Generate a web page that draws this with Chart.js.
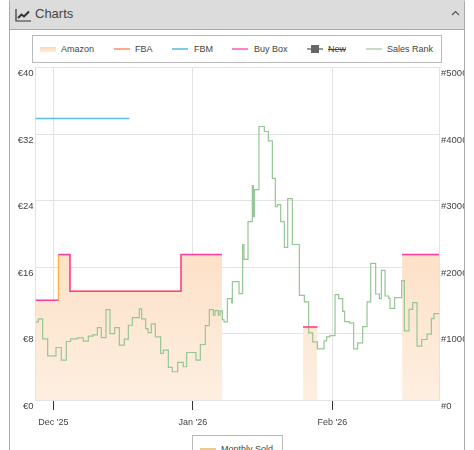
<!DOCTYPE html>
<html lang="en">
<head>
  <title>Charts</title>
  <meta charset="utf-8">
  <script src="https://cdn.jsdelivr.net/npm/chart.js@4/dist/chart.umd.min.js"></script>
  <style>
    html, body { margin: 0; height: 450px; overflow: hidden; background: #fff; font-family: "Liberation Sans", Arial, sans-serif; }
    .panel { position: absolute; left: 9px; top: -2px; width: 454px; height: 470px; border: 1px solid #aaa; border-width: 1px 1.5px; border-radius: 4px 4px 0 0; overflow: hidden; }
    .panel-head { position: absolute; left: 0; top: 0; width: 100%; height: 30px; background: #dcdcdc; border-bottom: 1px solid #aaa; }
    .panel-head span { position: absolute; left: 25px; top: 6px; font-size: 13px; line-height: 17px; color: #444; }
    .panel-head svg { position: absolute; }
    .legend { position: absolute; border: 1px solid #bbb; background: #fff; font-size: 9px; color: #444; }
    .legend i { position: absolute; display: block; }
    .legend span { position: absolute; white-space: nowrap; line-height: 12px; }
    #chart { position: absolute; left: 10px; top: 60px; }
  </style>
</head>
<body>

<div class="panel">
  <div class="panel-head">
    <svg style="left:5px;top:9px" width="16" height="14" viewBox="0 0 16 14">
      <path d="M1 1V13H16" fill="none" stroke="#333" stroke-width="1.2"/>
      <path d="M3 10L6.5 6.5L9 8.5L14 3.5" fill="none" stroke="#333" stroke-width="2"/>
    </svg>
    <span>Charts</span>
    <svg style="left:441px;top:11px" width="9" height="6" viewBox="0 0 9 6">
      <path d="M1 5L4.5 1.5L8 5" fill="none" stroke="#555" stroke-width="1.2"/>
    </svg>
  </div>
</div>

<div class="legend" style="left:32px;top:35px;width:408px;height:26px">
  <i style="left:7px;top:11px;width:16px;height:5px;background:linear-gradient(#fdd9b3,#fdeedd)"></i>
  <span style="left:28px;top:7px">Amazon</span>
  <i style="left:81px;top:12px;width:16px;height:2px;background:#ffa78f"></i>
  <span style="left:102px;top:7px">FBA</span>
  <i style="left:139px;top:12px;width:16px;height:2px;background:#7fcaf0"></i>
  <span style="left:161px;top:7px">FBM</span>
  <i style="left:199px;top:12px;width:16px;height:2px;background:#ff80cf"></i>
  <span style="left:221px;top:7px">Buy Box</span>
  <i style="left:274px;top:12px;width:16px;height:2px;background:#999"></i>
  <i style="left:278px;top:9px;width:8px;height:8px;background:#666"></i>
  <span style="left:295px;top:7px;text-decoration:line-through">New</span>
  <i style="left:333px;top:12px;width:16px;height:2px;background:#c5dcc5"></i>
  <span style="left:354px;top:7px">Sales Rank</span>
</div>

<canvas id="chart" width="454" height="375"></canvas>

<div class="legend" style="left:192px;top:435px;width:89px;height:40px">
  <i style="left:7px;top:12px;width:16px;height:5px;background:#e8cd8f"></i>
  <span style="left:28px;top:7px">Monthly Sold</span>
</div>

<script>
  // x values are days counted from 1 Dec 2025
  const xMin = -3.96
  const xMax = 85.7
  const monthDays = [0, 31, 62]
  const monthLabels = ["Dec '25", "Jan '26", "Feb '26"]

  const priceTicks = [0, 8, 16, 24, 32, 40]
  const rankTicks = [0, 10000, 20000, 30000, 40000, 50000]

  const amazonDays = [-3.96, 1.11, 3.7, 28.37, 37.48, 37.49, 55.5, 58.67, 58.68, 77.5, 85.7]
  const amazonPrices = [12, 17.5, 13.1, 17.5, 17.5, null, 8.8, 8.8, null, 17.5, 17.5]

  const buyBoxDays = [-3.96, 1.1, 1.11, 1.12, 3.7, 28.37, 37.48, 37.49, 55.5, 58.67, 58.68, 77.5, 85.7]
  const buyBoxPrices = [12, 12, null, 17.5, 13.1, 17.5, 17.5, null, 8.8, 8.8, null, 17.5, 17.5]

  const fbmDays = [-3.96, 16.9]
  const fbmPrices = [33.9, 33.9]

  const rankDays = [
    -3.96, -3.33, -2.37, -1.26, 0.59, 1.78, 2.89, 3.85, 5.33, 6.67, 7.78, 8.74, 9.78, 10.67, 11.7, 12.59,
    13.63, 14.67, 15.78, 16.67, 17.56, 19.11, 19.63, 20.52, 21.04, 21.78, 22.67, 23.85, 24.44, 25.56, 26.44, 27.63,
    28.89, 29.63, 31.7, 32.67, 33.78, 34.67, 35.56, 35.93, 36.67, 37.04, 37.56, 37.93, 38.67, 39.63, 39.78, 41.26,
    42.07, 42.37, 43.26, 44.22, 44.45, 44.67, 45.7, 46.89, 47.78, 48.67, 49.33, 49.78, 50.52, 51.34, 52.08, 53.11,
    54.67, 55.78, 56.74, 57.63, 58.67, 60.15, 60.74, 61.48, 62.6, 63.41, 64.3, 64.74, 65.78, 66.74, 67.63, 68.74,
    69.71, 70.52, 71.63, 72.45, 72.89, 73.71, 74.52, 74.82, 75.85, 77.41, 78, 79.04, 79.85, 80.82, 81.85, 83.04,
    84, 84.59, 85.7
  ]
  const rankValues = [
    11750, 12200, 9200, 6650, 7900, 6000, 8800, 9200, 9350, 8850, 9600, 9800, 10900, 9400, 13600, 10000,
    10900, 8250, 9150, 11250, 12400, 13700, 12200, 10750, 10150, 11450, 9500, 7000, 7500, 4900, 4250, 5650,
    5000, 7150, 6000, 8350, 11200, 13600, 12750, 13450, 12750, 13400, 12100, 11750, 15250, 14600, 17800, 16000,
    23400, 21150, 26850, 32250, 27600, 31650, 41150, 40400, 39000, 33350, 29100, 29400, 26850, 22950, 30300, 23400,
    15750, 14750, 10100, 8750, 7700, 8900, 9500, 9700, 15850, 15250, 13350, 11800, 11600, 7700, 8600, 11050,
    14750, 20550, 15950, 15250, 19500, 15650, 15300, 13800, 15400, 17950, 10400, 13650, 14650, 8100, 9100, 9900,
    12250, 13000, 13000
  ]

  function toPoints(days, values) {
    return days.map((d, i) => ({ x: d, y: values[i] }))
  }

  // peach fill, slightly stronger near the highest price
  function amazonFill(ctx) {
    const area = ctx.chart.chartArea
    if (!area) return '#fde6d0'
    const g = ctx.chart.ctx.createLinearGradient(0, 194, 0, area.bottom)
    g.addColorStop(0, '#fde1c8')
    g.addColorStop(1, '#fdefe1')
    return g
  }

  const gridColor = '#e3e3e3'
  const labelColor = '#444'

  new Chart('chart', {
    type: 'line',
    data: {
      datasets: [
        { label: 'Buy Box', data: toPoints(buyBoxDays, buyBoxPrices), yAxisID: 'price', borderColor: '#ff3d9e', borderWidth: 1.5, stepped: true, pointRadius: 0, order: 1 },
        { label: 'FBM', data: toPoints(fbmDays, fbmPrices), yAxisID: 'price', borderColor: '#5bbcec', borderWidth: 1.5, pointRadius: 0, order: 2 },
        { label: 'Sales Rank', data: toPoints(rankDays, rankValues), yAxisID: 'rank', borderColor: '#96c696', borderWidth: 1.2, stepped: true, pointRadius: 0, order: 3 },
        { label: 'Amazon', data: toPoints(amazonDays, amazonPrices), yAxisID: 'price', borderColor: '#ffa31a', backgroundColor: amazonFill, borderWidth: 1, stepped: true, fill: 'origin', pointRadius: 0, order: 4 }
      ]
    },
    options: {
      responsive: false,
      animation: false,
      plugins: { legend: { display: false }, tooltip: { enabled: false } },
      scales: {
        x: {
          type: 'linear',
          min: xMin,
          max: xMax,
          afterBuildTicks: (axis) => { axis.ticks = monthDays.map(v => ({ value: v })) },
          afterFit: (axis) => { axis.height = 35 },
          grid: { color: gridColor, tickColor: '#333', tickLength: 10 },
          border: { color: gridColor },
          ticks: {
            maxRotation: 0,
            padding: 7,
            color: labelColor,
            font: { family: '"Liberation Sans"', size: 9 },
            callback: (v) => monthLabels[monthDays.indexOf(v)]
          }
        },
        price: {
          position: 'left',
          min: 0,
          max: 40,
          afterBuildTicks: (axis) => { axis.ticks = priceTicks.map(v => ({ value: v })) },
          afterFit: (axis) => { axis.width = 25.5 },
          grid: { color: gridColor, drawTicks: false },
          border: { color: gridColor },
          ticks: {
            padding: 2,
            labelOffset: 6,
            color: labelColor,
            font: { family: '"Liberation Sans"', size: 9.5 },
            callback: (v) => '€' + v
          }
        },
        rank: {
          position: 'right',
          min: 0,
          max: 50000,
          afterBuildTicks: (axis) => { axis.ticks = rankTicks.map(v => ({ value: v })) },
          afterFit: (axis) => { axis.width = 25 },
          grid: { drawOnChartArea: false, drawTicks: false },
          border: { color: gridColor },
          ticks: {
            padding: 2,
            labelOffset: 6,
            color: labelColor,
            font: { family: '"Liberation Sans"', size: 9.5 },
            callback: (v) => '#' + v
          }
        }
      }
    }
  })
</script>
</body>
</html>
